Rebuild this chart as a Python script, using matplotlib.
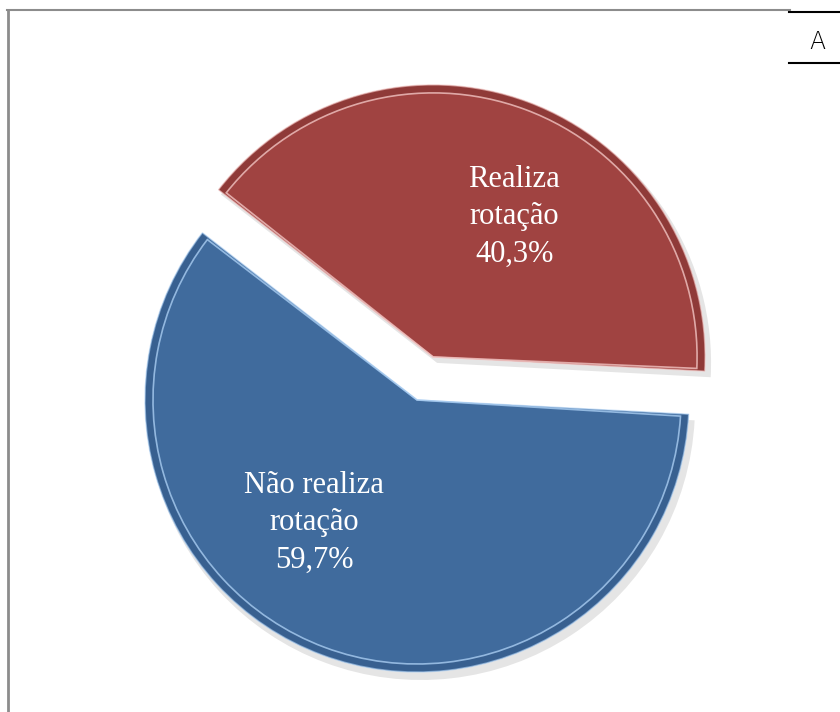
import matplotlib.pyplot as plt
from matplotlib.patches import Wedge
import numpy as np

labels = ['Realiza\nrotação\n40,3%', 'Não realiza\nrotação\n59,7%']
values = [40.3, 59.7]
colors = ['#a04341', '#406b9d']
dark_colors = ['#5e2220', '#23416a']
light_colors = ['#f2c4c2', '#a9cdf2']
explode = [46, 0]

W, H = 840, 712
fig = plt.figure(figsize=(W / 100, H / 100), dpi=100)
ax = fig.add_axes([0, 0, 1, 1])

center = (417, H - 400)
radius = 272

wedges, _ = ax.pie(values, colors=colors, startangle=-3, counterclock=True,
                   explode=explode, radius=radius, center=center,
                   wedgeprops=dict(linewidth=0, zorder=3), frame=True)
ax.set_xlim(0, W)
ax.set_ylim(0, H)
ax.set_aspect('equal')
ax.axis('off')

# shadow + bevel look
for w, dk, lt in zip(wedges, dark_colors, light_colors):
    cx, cy = w.center
    sh = Wedge((cx + 4, cy - 6), w.r + 2, w.theta1, w.theta2,
               color='#000000', alpha=0.10, lw=0, zorder=1)
    ax.add_patch(sh)
    ax.add_patch(Wedge((cx, cy), w.r, w.theta1, w.theta2, width=8,
                       color=dk, alpha=0.25, lw=0, zorder=4))
    ax.add_patch(Wedge((cx, cy), w.r - 8, w.theta1 + 0.5, w.theta2 - 0.5,
                       fill=False, edgecolor=lt, lw=1.2, alpha=0.8, zorder=5))
    ax.add_patch(Wedge((cx, cy), w.r, w.theta1, w.theta2,
                       fill=False, edgecolor=lt, lw=1.0, alpha=0.6, zorder=5))

# labels, placed off the wedge vertex
label_pos = [(60, 162), (230, 160)]
for w, lab, (ang, dist) in zip(wedges, labels, label_pos):
    cx, cy = w.center
    tx = cx + dist * np.cos(np.radians(ang))
    ty = cy + dist * np.sin(np.radians(ang))
    ax.text(tx, ty, lab, ha='center', va='center', color='white',
            fontsize=22, family='Liberation Serif', linespacing=1.38, zorder=6)

# frame lines
ax.plot([7, 790], [H - 10, H - 10], color='#8c8c8c', lw=1.5, zorder=2)
ax.plot([8, 8], [0, H - 10], color='#8c8c8c', lw=2, zorder=2)
ax.plot([789, 840], [H - 12, H - 12], color='black', lw=1.5, zorder=2)
ax.plot([789, 840], [H - 63, H - 63], color='black', lw=1.5, zorder=2)
ax.text(817, H - 42, 'A', ha='center', va='center', fontsize=17,
        family='DejaVu Sans', weight='light', color='black')

fig.savefig('out.png', dpi=100)
